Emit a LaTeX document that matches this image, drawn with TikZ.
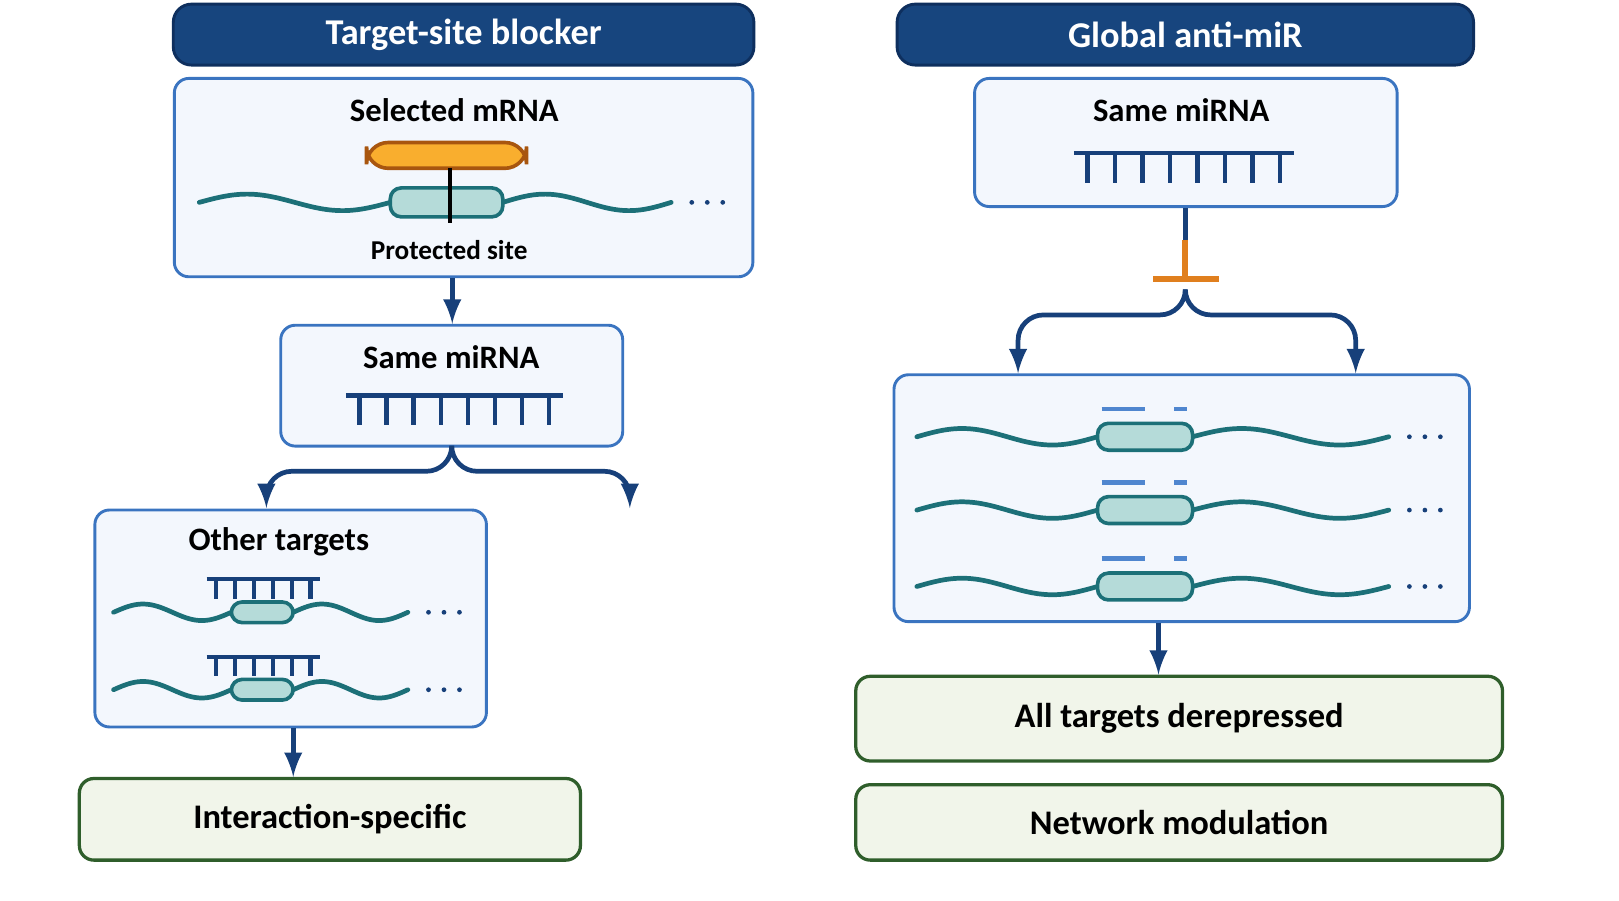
\documentclass[tikz,border=0pt]{standalone}
\usepackage{fontspec}
\setmainfont{Carlito}
\usetikzlibrary{positioning}
\definecolor{hdblue}{HTML}{17457E}
\definecolor{hdedge}{HTML}{0E2F5E}
\definecolor{panelbg}{HTML}{F3F7FD}
\definecolor{panelrim}{HTML}{3A74C0}
\definecolor{resbg}{HTML}{F1F5EA}
\definecolor{resrim}{HTML}{2F5E2B}
\definecolor{linkblue}{HTML}{17407A}
\definecolor{rnateal}{HTML}{1C7078}
\definecolor{sitefill}{HTML}{B5DBD9}
\definecolor{blockfill}{HTML}{F9AE2E}
\definecolor{blockrim}{HTML}{A8560F}
\definecolor{inhib}{HTML}{E07F1E}
\definecolor{dashblue}{HTML}{4F86CF}
\tikzset{
  header/.style={fill=hdblue, draw=hdedge, line width=.8pt, rounded corners=5pt, text=white,
    font=\bfseries\fontsize{10}{12}\selectfont, inner sep=0pt},
  panel/.style={fill=panelbg, draw=panelrim, line width=.8pt, rounded corners=4pt, inner sep=0pt},
  result/.style={fill=resbg, draw=resrim, line width=.9pt, rounded corners=4pt,
    font=\bfseries\fontsize{9.5}{11}\selectfont, inner sep=0pt},
  title/.style={font=\bfseries\fontsize{9}{11}\selectfont, inner sep=0pt},
  link/.style={->, draw=linkblue, line width=1.3pt, rounded corners=7pt},
  strand/.style={draw=rnateal, line width=1.3pt, line cap=round},
  comb/.style={draw=linkblue, line width=1.2pt},
}
% mRNA: start, site left, site right, end, y, half height of site
\newcommand\mrna[6]{%
  \draw[strand] plot[domain=#1:#2, samples=40, smooth] (\x,{#5-8*sin(360/(#2-#1)*(\x-#1))});
  \draw[strand] plot[domain=#3:#4, samples=40, smooth] (\x,{#5-8*sin(360/(#4-#3)*(\x-#3))});
  \draw[draw=rnateal, fill=sitefill, line width=1pt, rounded corners=3pt] (#2,#5-#6) rectangle (#3,#5+#6);
  \foreach \d in {0,1,2} \fill[linkblue] (#4+20+\d*15,#5) circle (2.3);
}
% miRNA comb: left, right, y, teeth, tooth length
\newcommand\mirna[5]{%
  \draw[comb] (#1,#3) -- (#2,#3);
  \foreach \i in {1,...,#4} \draw[comb] ({#1+(\i-.5)*(#2-#1)/#4},#3) -- ++(0,#5);
}
\begin{document}
\begin{tikzpicture}[x=0.01cm, y=-0.01cm, >=latex]
\useasboundingbox (0,0) rectangle (1568,872);

% left column
\node[header, minimum width=5.62cm, minimum height=.59cm] (hdL) at (449,33.5) {Target-site blocker};
\node[panel, minimum width=5.6cm, minimum height=1.92cm] (sel) at (449,172) {};
\node[title] (selT) at (440,107) {Selected mRNA};
\mrna{193}{378}{487}{650}{196}{14}
\draw[draw=blockrim, fill=blockfill, line width=1pt, rounded corners=6pt] (355,138) rectangle (510,163);
\draw[black, line width=1.2pt] (436,163) -- (436,216);
\node[font=\bfseries\fontsize{7.5}{9}\selectfont] (prot) at (435,242) {Protected site};

\node[panel, minimum width=3.31cm, minimum height=1.17cm] (mirL) at (437.5,373.5) {};
\node[title] (mirLT) at (437,346) {Same miRNA};
\mirna{335}{545}{383}{8}{29}
\draw[link] (sel.south -| 438,0) -- (mirL.north -| 438,0);

\node[panel, minimum width=3.79cm, minimum height=2.1cm] (oth) at (281.5,599) {};
\node[title] (othT) at (270,525) {Other targets};
\mirna{200}{310}{561}{6}{19}
\mrna{110}{224}{284}{395}{593}{10}
\mirna{200}{310}{636}{6}{19}
\mrna{110}{224}{284}{395}{668}{10}

\coordinate (brR) at (610,492);
\draw[link] (mirL.south) -- ++(0,23) -| (258,492);
\draw[link] (mirL.south) -- ++(0,23) -| (brR);

\node[result, minimum width=4.85cm, minimum height=.79cm] (spec) at (319.5,793.5) {Interaction-specific};
\draw[link] (oth.south -| 284,0) -- (spec.north -| 284,0);

% right column
\node[header, minimum width=5.58cm, minimum height=.59cm] (hdR) at (1148,33.5) {Global anti-miR};
\node[panel, minimum width=4.09cm, minimum height=1.24cm] (mirR) at (1148.5,138) {};
\node[title] (mirRT) at (1144,107) {Same miRNA};
\mirna{1040}{1253}{148}{8}{29}

\coordinate (tee) at (1148,270);
\draw[draw=linkblue, line width=1.3pt] (mirR.south -| tee) -- (1148,232);
\draw[draw=inhib, line width=1.6pt] (1148,232) -- (tee);
\draw[draw=inhib, line width=1.8pt] (1117,270) -- (1181,270);

\node[panel, minimum width=5.57cm, minimum height=2.39cm] (all) at (1144.5,482.5) {};
\draw[link] (1148,285) -- ++(0,20) -| (all.north -| 986,0);
\draw[link] (1148,285) -- ++(0,20) -| (all.north -| 1313,0);
\foreach \y in {423,494,568} {
  \draw[dashblue, line width=1.3pt, dash pattern=on 12pt off 8pt] (1067,\y-27) -- (1150,\y-27);
  \mrna{888}{1063}{1155}{1345}{\y}{13}
}

\node[result, minimum width=6.26cm, minimum height=.82cm] (der) at (1142,696) {All targets derepressed};
\node[result, minimum width=6.26cm, minimum height=.73cm] (net) at (1142,796.5) {Network modulation};
\draw[link] (all.south -| 1122,0) -- (der.north -| 1122,0);
\end{tikzpicture}
\end{document}
